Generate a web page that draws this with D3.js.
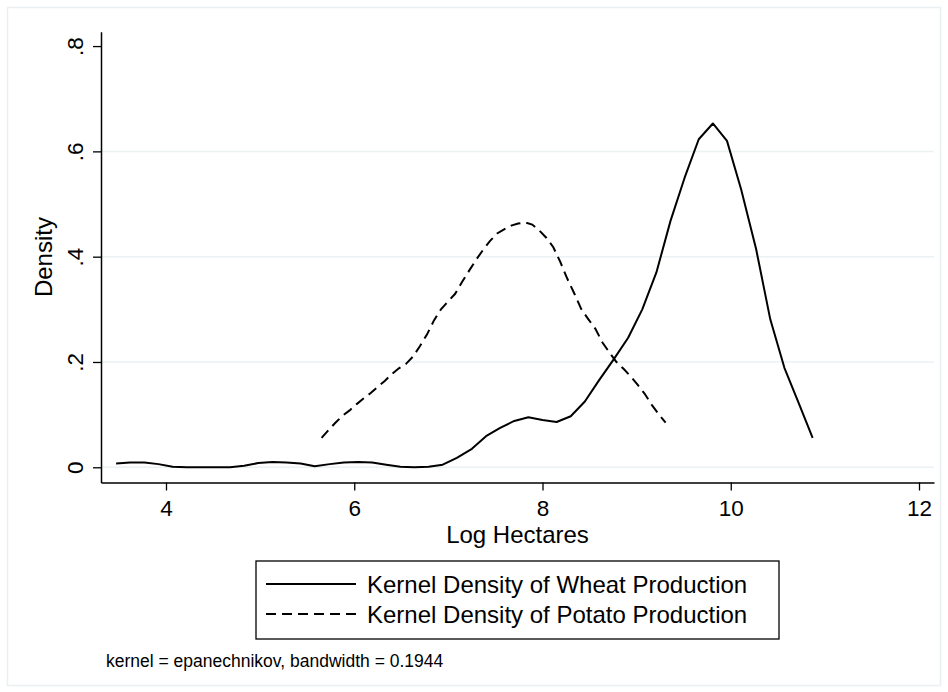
<!DOCTYPE html>
<html>
<head>
<meta charset="utf-8">
<script src="https://cdn.jsdelivr.net/npm/d3@7"></script>
<style>
  body { margin: 0; background: #fff; }
  svg text { font-family: "Liberation Sans", Arial, Helvetica, sans-serif; fill: #000; }
</style>
</head>
<body>
<div id="chart"></div>
<script>
// Kernel density estimates (50 evaluation points each)
const wheatX = [3.47, 3.62, 3.77, 3.92, 4.07, 4.22, 4.38, 4.53, 4.68, 4.83,
                4.98, 5.13, 5.28, 5.43, 5.58, 5.74, 5.89, 6.04, 6.19, 6.34,
                6.49, 6.64, 6.79, 6.94, 7.09, 7.25, 7.40, 7.55, 7.70, 7.85,
                8.00, 8.15, 8.30, 8.45, 8.60, 8.76, 8.91, 9.06, 9.21, 9.36,
                9.51, 9.66, 9.81, 9.96, 10.11, 10.27, 10.42, 10.57, 10.72, 10.87];
const wheatY = [0.007, 0.009, 0.009, 0.006, 0.001, 0.000, 0.000, 0.000, 0.000, 0.003,
                0.008, 0.010, 0.009, 0.007, 0.002, 0.006, 0.009, 0.010, 0.009, 0.005,
                0.001, 0.000, 0.001, 0.005, 0.018, 0.035, 0.059, 0.075, 0.088, 0.095,
                0.090, 0.086, 0.097, 0.125, 0.165, 0.206, 0.246, 0.300, 0.370, 0.468,
                0.550, 0.623, 0.653, 0.620, 0.528, 0.414, 0.281, 0.189, 0.123, 0.056];

const potatoX = [5.653, 5.728, 5.802, 5.877, 5.951, 6.026, 6.101, 6.175, 6.250, 6.324,
                 6.399, 6.474, 6.548, 6.623, 6.697, 6.772, 6.847, 6.921, 6.996, 7.070,
                 7.145, 7.219, 7.294, 7.369, 7.443, 7.518, 7.592, 7.667, 7.742, 7.816,
                 7.891, 7.965, 8.040, 8.115, 8.189, 8.264, 8.338, 8.413, 8.488, 8.562,
                 8.637, 8.711, 8.786, 8.861, 8.935, 9.010, 9.084, 9.159, 9.233, 9.308];
const potatoY = [0.056, 0.071, 0.085, 0.098, 0.108, 0.120, 0.131, 0.141, 0.153, 0.164,
                 0.177, 0.188, 0.196, 0.210, 0.230, 0.252, 0.279, 0.300, 0.315, 0.329,
                 0.352, 0.373, 0.394, 0.413, 0.430, 0.444, 0.452, 0.459, 0.463, 0.465,
                 0.461, 0.450, 0.436, 0.418, 0.390, 0.358, 0.330, 0.300, 0.281, 0.263,
                 0.237, 0.218, 0.200, 0.187, 0.173, 0.157, 0.140, 0.119, 0.101, 0.085];

const xTicks = [4, 6, 8, 10, 12];
const yTicks = [0, 0.2, 0.4, 0.6, 0.8];
const yTickLabels = ["0", ".2", ".4", ".6", ".8"];
const seriesNames = ["Kernel Density of Wheat Production", "Kernel Density of Potato Production"];
const note = "kernel = epanechnikov, bandwidth = 0.1944";

const width = 948, height = 692;
const plot = { left: 101, right: 934, top: 31.7, bottom: 482.5 };

const svg = d3.select("#chart")
    .append("svg")
    .attr("width", width)
    .attr("height", height);

// faint outer frame of the graph region
svg.append("rect")
    .attr("x", 7.5).attr("y", 7.5)
    .attr("width", 933).attr("height", 678)
    .attr("fill", "none")
    .attr("stroke", "#eaf0f2")
    .attr("stroke-width", 1.5);

// Scales
const x = d3.scaleLinear()
    .domain([4 - 65 / 94.125, 12 + 15 / 94.125])
    .range([plot.left, plot.right]);

const y = d3.scaleLinear()
    .domain([-0.0289, 0.8273])
    .range([plot.bottom, plot.top]);

// Gridlines
svg.append("g")
    .selectAll("line")
    .data(yTicks.filter(d => d < 0.8))
    .join("line")
    .attr("x1", plot.left)
    .attr("x2", plot.right)
    .attr("y1", d => y(d))
    .attr("y2", d => y(d))
    .attr("stroke", "#eaf2f3")
    .attr("stroke-width", 1.5);

// Lines
const wheat = wheatX.map((v, i) => ({ x: v, y: wheatY[i] }));
const potato = potatoX.map((v, i) => ({ x: v, y: potatoY[i] }));

const line = d3.line()
    .x(d => x(d.x))
    .y(d => y(d.y));

svg.append("path")
    .datum(wheat)
    .attr("fill", "none")
    .attr("stroke", "#000")
    .attr("stroke-width", 2)
    .attr("stroke-linejoin", "round")
    .attr("d", line);

svg.append("path")
    .datum(potato)
    .attr("fill", "none")
    .attr("stroke", "#000")
    .attr("stroke-width", 2)
    .attr("stroke-dasharray", "10,6")
    .attr("d", line);

// X-axis
const xAxis = svg.append("g")
    .attr("transform", `translate(0, ${plot.bottom})`)
    .call(d3.axisBottom(x).tickValues(xTicks).tickSize(8).tickSizeOuter(0).tickPadding(10));

// Y-axis
const yAxis = svg.append("g")
    .attr("transform", `translate(${plot.left}, 0)`)
    .call(d3.axisLeft(y).tickValues(yTicks).tickSize(8).tickSizeOuter(0)
        .tickFormat((d, i) => yTickLabels[i]));

[xAxis, yAxis].forEach(g => {
    g.select(".domain").attr("stroke", "#000").attr("stroke-width", 1.5);
    g.selectAll(".tick line").attr("stroke", "#000").attr("stroke-width", 1.3);
    g.selectAll(".tick text").style("font-size", "22.5px").attr("fill", "#000");
});

// rotated y tick labels, reading upward
yAxis.selectAll(".tick text")
    .attr("x", null)
    .attr("dy", null)
    .attr("text-anchor", "middle")
    .attr("transform", "translate(-18, 0) rotate(-90)");

// Labels
svg.append("text")
    .attr("x", (plot.left + plot.right) / 2)
    .attr("y", 543)
    .attr("text-anchor", "middle")
    .style("font-size", "24px")
    .text("Log Hectares");

svg.append("text")
    .attr("transform", `translate(52, ${(plot.top + plot.bottom) / 2}) rotate(-90)`)
    .attr("text-anchor", "middle")
    .style("font-size", "24px")
    .text("Density");

// Legend
const legend = svg.append("g");
legend.append("rect")
    .attr("x", 256).attr("y", 561)
    .attr("width", 523).attr("height", 78)
    .attr("fill", "#fff")
    .attr("stroke", "#000")
    .attr("stroke-width", 1.3);

const rows = legend.selectAll(".row")
    .data(seriesNames)
    .join("g")
    .attr("class", "row")
    .attr("transform", (d, i) => `translate(0, ${584 + i * 30})`);

rows.append("line")
    .attr("x1", 266).attr("x2", 356)
    .attr("stroke", "#000")
    .attr("stroke-width", 2)
    .attr("stroke-dasharray", (d, i) => i === 1 ? "10,6" : null);

rows.append("text")
    .attr("x", 367)
    .attr("y", 8.5)
    .style("font-size", "24px")
    .text(d => d);

// Note
svg.append("text")
    .attr("x", 106)
    .attr("y", 666.5)
    .style("font-size", "17.5px")
    .text(note);
</script>
</body>
</html>
